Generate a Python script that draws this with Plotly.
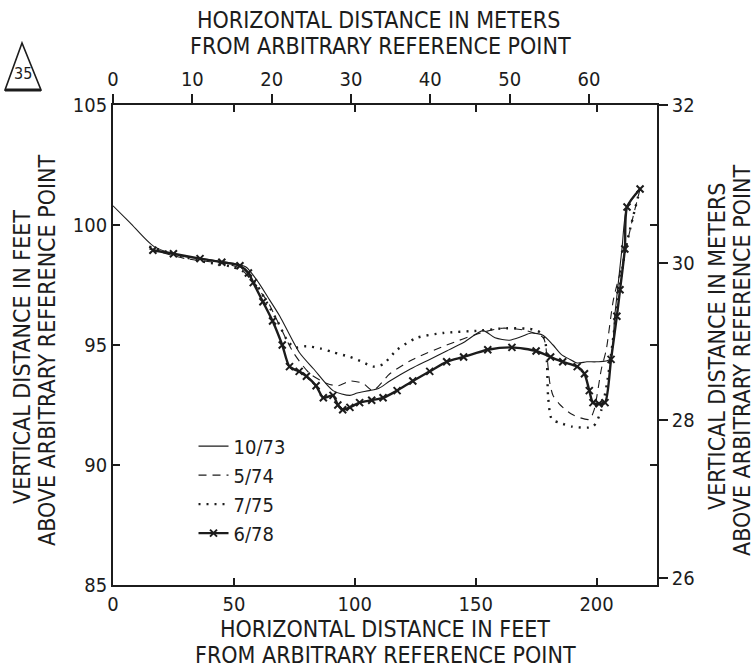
import plotly.graph_objects as go

FT_TO_M = 0.3048

# ---- data (feet) ----
x_1073 = [0, 7, 17, 29, 40, 50, 55, 59.5, 64, 69, 77, 83, 91, 98, 101, 106, 110, 114.5, 123, 131, 138,
          145, 153, 158, 164, 169, 173, 178, 182, 185.5, 189, 192, 196, 200, 205.5, 207.5, 209, 210.5,
          212.6, 218]
y_1073 = [100.8, 100.1, 99.1, 98.7, 98.55, 98.4, 98.25, 97.7, 97.0, 96.2, 94.7, 94.0, 93.1, 92.9, 93.0,
          93.1, 93.2, 93.5, 94.0, 94.4, 94.75, 95.1, 95.6, 95.3, 95.2, 95.35, 95.5, 95.4, 95.0, 94.6,
          94.4, 94.25, 94.3, 94.3, 94.4, 96.2, 97.6, 99.0, 100.75, 101.5]

x_574 = [15, 30, 45, 52.5, 59.5, 64, 68, 74.5, 81.5, 88.5, 93, 98, 103.4, 107.5, 114.5, 124, 138, 152,
         161, 171, 178, 179.5, 180.7, 182, 185, 190, 197, 199, 202, 204, 207, 211, 215, 218]
y_574 = [99.0, 98.6, 98.4, 98.2, 97.4, 96.8, 96.0, 94.7, 93.8, 93.4, 93.3, 93.5, 93.4, 93.1, 93.8, 94.4,
         95.0, 95.5, 95.7, 95.6, 95.3, 94.5, 93.4, 92.9, 92.5, 92.1, 91.9, 92.3, 94.0, 94.8, 96.9, 98.5,
         100.3, 101.5]

x_775 = [15, 25, 36, 49.6, 55, 59.5, 64, 68, 72, 75, 80, 86, 91, 98, 103, 107.5, 111.7, 117.5, 125.7,
         136.5, 151.8, 163, 173.7, 177, 178.7, 179.5, 180, 181.5, 185, 190, 198.5, 202, 204.3, 206.5,
         209, 212, 218]
y_775 = [99.1, 98.8, 98.5, 98.25, 98.0, 97.5, 96.7, 96.0, 95.2, 94.9, 94.95, 94.85, 94.7, 94.5, 94.3,
         94.1, 94.2, 94.8, 95.3, 95.5, 95.6, 95.7, 95.65, 95.5, 95.2, 94.25, 92.8, 91.9, 91.75, 91.6,
         91.6, 92.3, 93.4, 95.0, 97.0, 99.0, 101.5]

x_678 = [16.5, 25, 36, 45, 52.5, 56, 58, 62, 66, 70, 73, 77, 80, 84, 87, 91, 93, 95, 98, 102, 107,
         111.7, 117.5, 124, 131, 138, 145, 155, 165, 175, 181, 186, 192, 195, 197, 198.5, 201, 203.5,
         206, 208.4, 209.7, 211.7, 212.6, 218]
y_678 = [98.95, 98.8, 98.6, 98.45, 98.3, 98.0, 97.6, 96.8, 96.0, 95.0, 94.1, 93.9, 93.7, 93.3, 92.8,
         92.9, 92.5, 92.3, 92.4, 92.6, 92.7, 92.8, 93.1, 93.5, 93.9, 94.3, 94.5, 94.8, 94.9, 94.75,
         94.5, 94.3, 94.1, 93.8, 93.1, 92.6, 92.55, 92.6, 94.4, 96.2, 97.3, 99.0, 100.75, 101.5]

feet_x_ticks = [0, 50, 100, 150, 200]
meter_x_ticks = [0, 10, 20, 30, 40, 50, 60]
feet_y_ticks = [85, 90, 95, 100, 105]
meter_y_ticks = [26, 28, 30, 32]

X_RANGE_FT = [0, 225]
Y_RANGE_FT = [85, 105]

INK = "#1c1c1c"
FONT = "DejaVu Sans Condensed, Liberation Sans Narrow, sans-serif"
FS_TICK = 20
FS_TITLE = 23
FS_LEG = 20
WEIGHT = 400

fig = go.Figure()
fig.add_trace(go.Scatter(x=x_1073, y=y_1073, mode="lines", name="10/73",
                         line=dict(color=INK, width=1.1, shape="spline", smoothing=0.7)))
fig.add_trace(go.Scatter(x=x_574, y=y_574, mode="lines", name="5/74",
                         line=dict(color=INK, width=1.1, dash="8px,6px", shape="spline", smoothing=0.7)))
fig.add_trace(go.Scatter(x=x_775, y=y_775, mode="lines", name="7/75",
                         line=dict(color=INK, width=2.4, dash="2px,6px", shape="spline", smoothing=0.7)))
fig.add_trace(go.Scatter(x=x_678, y=y_678, mode="lines+markers", name="6/78",
                         line=dict(color=INK, width=2.4, shape="spline", smoothing=0.7),
                         marker=dict(symbol="x-thin", size=7, line=dict(color=INK, width=2))))
# invisible traces to activate secondary axes
fig.add_trace(go.Scatter(x=[X_RANGE_FT[0] * FT_TO_M], y=[Y_RANGE_FT[0]], xaxis="x2", yaxis="y",
                         mode="markers", marker=dict(opacity=0), showlegend=False, hoverinfo="skip"))
fig.add_trace(go.Scatter(x=[X_RANGE_FT[0]], y=[Y_RANGE_FT[0] * FT_TO_M], xaxis="x", yaxis="y2",
                         mode="markers", marker=dict(opacity=0), showlegend=False, hoverinfo="skip"))

tick_font = dict(family=FONT, size=FS_TICK, color=INK, weight=WEIGHT)
axis_common = dict(showgrid=False, zeroline=False, showline=True, linecolor=INK, linewidth=1.6,
                   tickcolor=INK, tickwidth=1.6, tickfont=tick_font)

fig.update_layout(
    width=755, height=668,
    margin=dict(l=113, r=98, t=105, b=83),
    paper_bgcolor="white", plot_bgcolor="white",
    font=dict(family=FONT, size=FS_TICK, color=INK),
    xaxis=dict(range=X_RANGE_FT, tickvals=feet_x_ticks, ticks="inside", ticklen=7,
               mirror="ticks", automargin=False, **axis_common),
    xaxis2=dict(range=[v * FT_TO_M for v in X_RANGE_FT], tickvals=meter_x_ticks, ticks="outside",
                ticklen=9, side="top", overlaying="x", automargin=False, **axis_common),
    yaxis=dict(range=Y_RANGE_FT, tickvals=feet_y_ticks, ticks="inside", ticklen=7,
               mirror="ticks", automargin=False, **axis_common),
    yaxis2=dict(range=[v * FT_TO_M for v in Y_RANGE_FT], tickvals=meter_y_ticks, ticks="outside",
                ticklen=9, side="right", overlaying="y", automargin=False, **axis_common),
    legend=dict(x=0.148, y=0.33, xanchor="left", yanchor="top", bgcolor="rgba(0,0,0,0)",
                font=dict(family=FONT, size=FS_LEG, color=INK, weight=WEIGHT), tracegroupgap=0),
    showlegend=True,
)


def px_to_paper(px, py):
    return (px - 113) / 544, (585 - py) / 480


def label(text, px, py, angle=0, size=FS_TITLE):
    xp, yp = px_to_paper(px, py)
    fig.add_annotation(text=text, x=xp, y=yp, xref="paper", yref="paper", showarrow=False,
                       textangle=angle, font=dict(family=FONT, size=size, color=INK, weight=WEIGHT),
                       xanchor="center", yanchor="middle")


label("HORIZONTAL DISTANCE IN METERS", 378, 20)
label("FROM ARBITRARY REFERENCE POINT", 380, 46)
label("HORIZONTAL DISTANCE IN FEET", 385, 629)
label("FROM ARBITRARY REFERENCE POINT", 385, 655)
label("VERTICAL DISTANCE IN FEET", 22, 357, angle=-90)
label("ABOVE ARBITRARY REFERENCE POINT", 47, 350, angle=-90)
label("VERTICAL DISTANCE IN METERS", 717, 347, angle=-90)
label("ABOVE ARBITRARY REFERENCE POINT", 742, 360, angle=-90)

# triangle badge
ax, ay = px_to_paper(22, 43)
bl = px_to_paper(5, 90)
br = px_to_paper(41, 90)
fig.add_shape(type="path", xref="paper", yref="paper",
              path=f"M {ax} {ay} L {bl[0]} {bl[1]} L {br[0]} {br[1]} Z",
              line=dict(color=INK, width=1.6))
fig.add_shape(type="line", xref="paper", yref="paper", x0=bl[0], y0=bl[1], x1=br[0], y1=br[1],
              line=dict(color=INK, width=3))
label("35", 23, 73, size=16)

fig.write_html("out.html")
